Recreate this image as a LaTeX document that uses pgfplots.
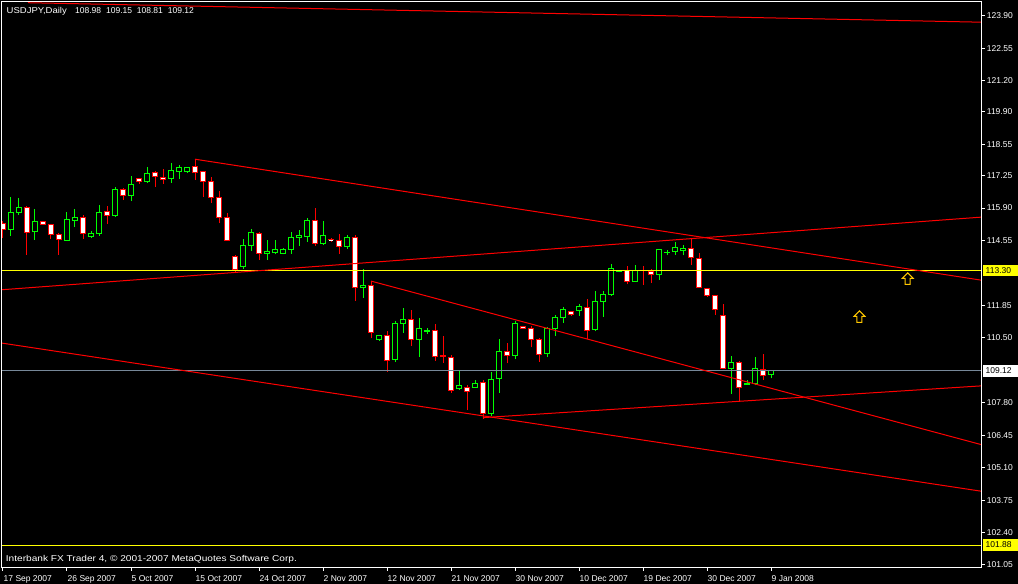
\documentclass[border=0pt]{standalone}
\usepackage{fontspec}
\setmainfont{Liberation Sans}
\usepackage{pgfplots}
\usepackage{pgfplotstable}
\pgfplotsset{compat=1.18}

\definecolor{mtred}{RGB}{255,0,0}
\definecolor{mtgreen}{RGB}{0,255,0}
\definecolor{mtyellow}{RGB}{255,255,0}
\definecolor{mtbid}{RGB}{119,136,153}
\definecolor{mtgold}{RGB}{255,200,0}

\pgfdeclareplotmark{mtup}{%
  \pgfpathmoveto{\pgfqpoint{0pt}{6pt}}%
  \pgfpathlineto{\pgfqpoint{5.5pt}{0.5pt}}%
  \pgfpathlineto{\pgfqpoint{2.5pt}{0.5pt}}%
  \pgfpathlineto{\pgfqpoint{2.5pt}{-5.5pt}}%
  \pgfpathlineto{\pgfqpoint{-2.5pt}{-5.5pt}}%
  \pgfpathlineto{\pgfqpoint{-2.5pt}{0.5pt}}%
  \pgfpathlineto{\pgfqpoint{-5.5pt}{0.5pt}}%
  \pgfpathclose
  \pgfusepathqfillstroke}

% daily bars (index, open, high, low, close)
\pgfplotstableread{
i O H L C
0 115.26 115.36 114.64 115.01
1 115.00 116.36 114.75 115.72
2 115.71 116.32 115.61 115.93
3 115.93 115.98 113.95 114.87
4 114.93 115.85 114.57 115.35
5 115.35 115.36 115.21 115.22
6 115.22 115.25 114.61 114.80
7 114.80 114.86 113.95 114.60
8 114.56 115.73 114.56 115.43
9 115.37 115.86 115.10 115.51
10 115.51 115.60 114.62 114.85
11 114.71 114.93 114.67 114.85
12 114.85 116.02 114.75 115.72
13 115.76 115.98 115.25 115.58
14 115.58 116.77 115.54 116.68
15 116.68 116.75 116.25 116.43
16 116.41 117.23 116.19 116.88
17 117.13 117.13 116.91 117.01
18 116.99 117.61 116.95 117.34
19 117.38 117.45 116.79 117.22
20 117.18 117.52 116.91 117.08
21 117.12 117.77 116.95 117.47
22 117.43 117.69 117.12 117.59
23 117.43 117.59 117.37 117.59
24 117.63 117.92 117.08 117.38
25 117.43 117.43 116.37 116.99
26 117.01 117.18 116.12 116.33
27 116.34 116.59 115.26 115.50
28 115.51 115.68 114.56 114.56
29 113.89 113.93 113.18 113.35
30 113.46 114.63 113.35 114.35
31 114.33 115.03 114.11 114.89
32 114.85 114.92 113.74 114.02
33 114.02 114.57 113.74 114.07
34 114.04 114.57 113.97 114.18
35 114.00 114.25 113.97 114.18
36 114.17 114.90 113.99 114.68
37 114.67 114.99 114.32 114.76
38 114.71 115.47 114.49 115.39
39 115.39 115.90 114.33 114.42
40 114.44 115.36 114.38 114.76
41 114.58 114.65 114.49 114.57
42 114.56 114.82 113.99 114.31
43 114.31 114.76 114.21 114.68
44 114.68 114.76 112.05 112.60
45 112.60 113.35 112.16 112.68
46 112.67 112.86 110.48 110.73
47 110.42 110.62 110.38 110.58
48 110.58 110.78 109.09 109.55
49 109.60 111.19 109.51 111.10
50 111.09 111.74 110.71 111.28
51 111.28 111.66 110.17 110.44
52 110.44 111.32 109.72 110.89
53 110.78 110.91 110.66 110.81
54 110.81 111.07 109.54 109.72
55 109.75 110.59 109.47 109.74
56 109.69 109.77 108.22 108.31
57 108.38 109.16 108.33 108.50
58 108.44 108.55 107.51 108.27
59 108.43 108.75 108.43 108.61
60 108.65 108.75 107.14 107.36
61 107.35 109.09 107.25 108.77
62 108.81 110.44 108.22 109.94
63 109.94 110.27 109.44 109.77
64 109.76 111.19 109.63 111.10
65 110.95 110.95 110.88 110.88
66 110.89 110.99 110.10 110.44
67 110.44 110.49 109.51 109.81
68 109.84 110.96 109.72 110.88
69 110.87 111.44 110.58 111.35
70 111.35 111.77 111.13 111.69
71 111.59 111.59 111.42 111.46
72 111.63 111.91 111.41 111.82
73 111.77 112.12 110.44 110.81
74 110.84 112.45 110.78 112.02
75 112.00 112.45 111.38 112.31
76 112.30 113.57 112.25 113.39
77 113.25 113.32 113.22 113.27
78 113.29 113.49 112.73 112.85
79 112.85 113.53 112.85 113.29
80 113.32 113.49 112.71 113.30
81 113.27 113.35 112.77 113.14
82 113.14 114.18 112.92 114.18
83 114.03 114.15 113.94 114.06
84 114.08 114.49 113.96 114.26
85 114.13 114.35 113.93 114.22
86 114.22 114.65 113.54 113.85
87 113.81 114.03 112.60 112.60
88 112.56 112.56 112.21 112.27
89 112.27 112.27 111.45 111.69
90 111.43 111.91 109.19 109.23
91 109.23 109.74 108.18 109.48
92 109.48 109.53 107.89 108.44
93 108.55 108.73 108.55 108.61
94 108.59 109.70 108.52 109.24
95 109.19 109.83 108.76 108.94
96 108.98 109.15 108.81 109.12
}\candles

\newcommand{\lbl}{\fontsize{8.5}{10}\selectfont}

\begin{document}
\begin{tikzpicture}
\path[use as bounding box, fill=black] (0pt,0pt) rectangle (1018pt,584pt);
\begin{axis}[
  at={(2pt,17pt)}, anchor=south west,
  scale only axis, width=979pt, height=565pt,
  xmin=-0.125, xmax=122.25, ymin=100.966, ymax=124.47,
  axis on top,
  axis line style={white, line width=1pt},
  tick style={white, line width=1pt},
  tick align=outside,
  major tick length=3.5pt,
  xtick pos=bottom, ytick pos=right, yticklabel pos=right,
  xtick={0,8,...,96},
  xticklabels={17 Sep 2007,26 Sep 2007,5 Oct 2007,15 Oct 2007,24 Oct 2007,2 Nov 2007,12 Nov 2007,21 Nov 2007,30 Nov 2007,10 Dec 2007,19 Dec 2007,30 Dec 2007,9 Jan 2008},
  ytick={123.90,122.55,121.20,119.90,118.55,117.25,115.90,114.55,111.85,110.50,107.80,106.45,105.10,103.75,102.40,101.05},
  yticklabels={123.90,122.55,121.20,119.90,118.55,117.25,115.90,114.55,111.85,110.50,107.80,106.45,105.10,103.75,102.40,101.05},
  ticklabel style={font=\lbl, text=white},
  xticklabel style={anchor=north west, inner sep=0pt, xshift=0.5pt, yshift=-5.3pt},
  yticklabel style={anchor=west, inner sep=0pt, xshift=2.2pt},
]
\pgfplotstablegetrowsof{\candles}
\pgfmathtruncatemacro{\lastrow}{\pgfplotsretval-1}
\pgfplotsinvokeforeach{0,...,\lastrow}{
  \pgfplotstablegetelem{#1}{i}\of\candles \let\ci\pgfplotsretval
  \pgfplotstablegetelem{#1}{O}\of\candles \let\co\pgfplotsretval
  \pgfplotstablegetelem{#1}{H}\of\candles \let\ch\pgfplotsretval
  \pgfplotstablegetelem{#1}{L}\of\candles \let\cl\pgfplotsretval
  \pgfplotstablegetelem{#1}{C}\of\candles \let\cc\pgfplotsretval
  \pgfmathsetmacro{\xa}{\ci-0.26}
  \pgfmathsetmacro{\xb}{\ci+0.26}
  \ifdim\cc pt<\co pt \def\cwick{mtred}\def\cfill{white}\else\def\cwick{mtgreen}\def\cfill{black}\fi
  \edef\temp{%
    \noexpand\addplot[draw=\cwick, line width=1pt, forget plot] coordinates {(\ci,\cl) (\ci,\ch)};
    \noexpand\addplot[draw=\cwick, fill=\cfill, line width=1pt, forget plot] coordinates {(\xa,\co) (\xb,\co) (\xb,\cc) (\xa,\cc)} -- cycle;
  }%
  \temp
}
% horizontal lines
\addplot[mtyellow, line width=1pt, forget plot] coordinates {(-0.125,113.30) (122.25,113.30)};
\addplot[mtyellow, line width=1pt, forget plot] coordinates {(-0.125,101.88) (122.25,101.88)};
\addplot[mtbid, line width=1pt, forget plot] coordinates {(-0.125,109.12) (122.25,109.12)};
% trend lines
\addplot[mtred, line width=1pt, forget plot] coordinates {(3.125,124.44) (122.25,123.63)};
\addplot[mtred, line width=1pt, forget plot] coordinates {(24,117.93) (122.25,112.90)};
\addplot[mtred, line width=1pt, forget plot] coordinates {(-0.125,112.50) (122.25,115.52)};
\addplot[mtred, line width=1pt, forget plot] coordinates {(46,112.86) (122.25,106.06)};
\addplot[mtred, line width=1pt, forget plot] coordinates {(60,107.18) (122.25,108.50)};
\addplot[mtred, line width=1pt, forget plot] coordinates {(-0.125,110.28) (122.25,104.12)};
% arrows
\addplot[only marks, mark=mtup, mark options={draw=mtgold, fill=black, line width=1pt}, forget plot] coordinates {(107.06,111.37) (113.09,112.95)};
\coordinate (p1) at (axis cs:122.25,113.30);
\coordinate (p2) at (axis cs:122.25,109.12);
\coordinate (p3) at (axis cs:122.25,101.88);
\end{axis}
\begin{scope}[every node/.style={font=\lbl, inner sep=0pt}]
\node[anchor=west, fill=mtyellow, text=black, inner xsep=3pt, text width=29pt, align=left, minimum height=11.5pt] at ([xshift=1.5pt]p1) {113.30};
\node[anchor=west, fill=white, text=black, inner xsep=3pt, text width=29pt, align=left, minimum height=11.5pt] at ([xshift=1.5pt]p2) {109.12};
\node[anchor=west, fill=mtyellow, text=black, inner xsep=3pt, text width=29pt, align=left, minimum height=11.5pt] at ([xshift=1.5pt]p3) {101.88};
\node[anchor=base west, text=white] at (6.5pt,570.7pt) {\scalebox{1.12}[1]{USDJPY,Daily}};
\node[anchor=base west, text=white] at (75pt,570.7pt) {108.98};
\node[anchor=base west, text=white] at (106pt,570.7pt) {109.15};
\node[anchor=base west, text=white] at (136.7pt,570.7pt) {108.81};
\node[anchor=base west, text=white] at (167.7pt,570.7pt) {109.12};
\node[anchor=base west, text=white] at (5.7pt,22pt) {\scalebox{1.19}[1]{Interbank FX Trader 4, \textcopyright{} 2001-2007 MetaQuotes Software Corp.}};
\end{scope}
\end{tikzpicture}
\end{document}
